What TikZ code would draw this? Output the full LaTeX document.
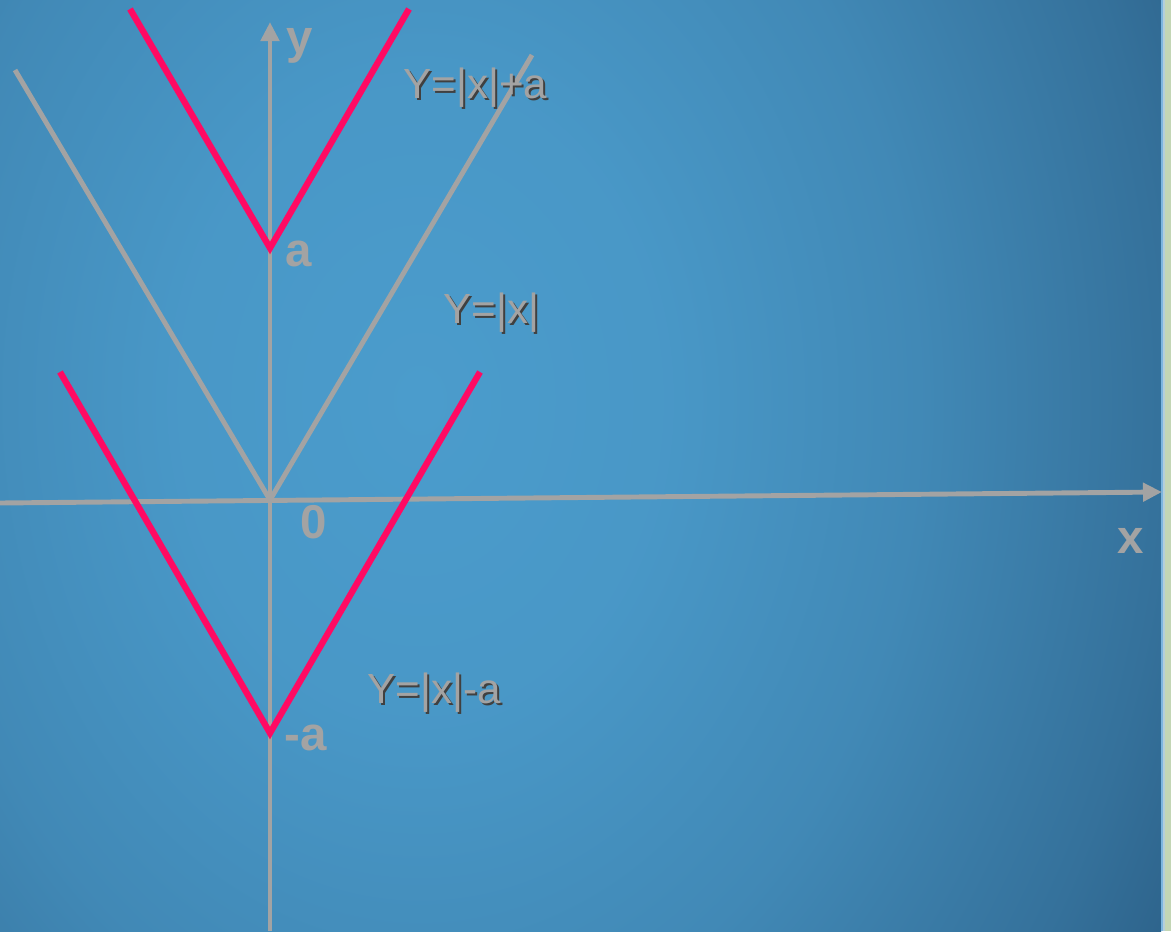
\documentclass[tikz,border=0pt]{standalone}
\usepackage{fontspec}
\setmainfont{Liberation Sans}
\usetikzlibrary{arrows.meta}
\definecolor{axisgray}{HTML}{A3A3A3}
\definecolor{curvered}{HTML}{FF0A63}
\definecolor{bglight}{HTML}{4B9CCC}
\definecolor{bgdark}{HTML}{234F74}
\definecolor{stripgreen}{HTML}{C3D6B5}
\definecolor{strippale}{HTML}{B5CFDA}
\definecolor{stripblue}{HTML}{7DB6E0}
\colorlet{bgqa}{bgdark!6!bglight}
\colorlet{bgqb}{bgdark!25!bglight}
\colorlet{bgqc}{bgdark!56!bglight}
\colorlet{bgqd}{bgdark!77!bglight}
\pgfdeclareradialshading{bgglow}{\pgfpoint{0bp}{0bp}}{color(0bp)=(bglight); color(6.25bp)=(bgqa); color(12.5bp)=(bgqb); color(18.75bp)=(bgqc); color(21.875bp)=(bgqd); color(25bp)=(bgdark); color(50bp)=(bgdark)}
\newcommand{\shadowtxt}[1]{\makebox[0pt][l]{\hspace{1.2pt}\raisebox{-1.2pt}{\color{black!75}#1}}#1}
\tikzset{
  >={Triangle[length=3.8mm,width=3.6mm]},
  axis/.style={draw=axisgray,line width=2.8pt},
  absline/.style={draw=axisgray,line width=2.8pt},
  shifted/.style={draw=curvered,line width=3.6pt,line join=miter},
  axislabel/.style={text=axisgray,inner sep=0pt,anchor=base west,font=\fontsize{27}{27}\selectfont\bfseries},
  formula/.style={text=axisgray,inner sep=0pt,anchor=base west,font=\fontsize{24}{24}\selectfont}
}
\begin{document}
\begin{tikzpicture}[x=0.02cm,y=-0.02cm]
  \useasboundingbox (0,0) rectangle (1171,931);
  % background
  \begin{scope}
    \clip (0,0) rectangle (1161,931);
    \shade[shading=bgglow] (420,400) ellipse [x radius=1000,y radius=1300];
  \end{scope}
  \fill[stripgreen] (1165,0) rectangle (1171,931);
  \fill[strippale] (1163,0) rectangle (1165,931);
  \fill[stripblue] (1161,0) rectangle (1163,931);

  % points
  \coordinate (origin) at (270,500);
  \coordinate (vtop) at (270,248);
  \coordinate (vbot) at (270,733);
  \coordinate (absl) at (15,70);
  \coordinate (absr) at (532,55);
  \coordinate (topl) at (130,9);
  \coordinate (topr) at (409,9);
  \coordinate (botl) at (60,372);
  \coordinate (botr) at (480,372);
  \coordinate (xstart) at (0,503);
  \coordinate (xend) at (1162,492);
  \coordinate (ystart) at (270,931);
  \coordinate (yend) at (270,22);

  % y=|x| and axes
  \draw[absline] (absl) -- (origin) -- (absr);
  \draw[axis,->] (xstart) -- (xend);
  \draw[axis,->] (ystart) -- (yend);

  % shifted graphs
  \draw[shifted] (topl) -- (vtop) -- (topr);
  \draw[shifted] (botl) -- (vbot) -- (botr);

  % labels
  \node[axislabel] (ylab) at (286,53) {y};
  \node[axislabel] (xlab) at (1117,553) {x};
  \node[axislabel] (zero) at (300,538) {0};
  \node[axislabel] (alab) at (285,266) {a};
  \node[axislabel] (malab) at (284,750) {-a};
  \node[formula] (fplus) at (403,98) {\shadowtxt{Y=|x|+a}};
  \node[formula] (fabs) at (443,323) {\shadowtxt{Y=|x|}};
  \node[formula] (fminus) at (367,703) {\shadowtxt{Y=|x|-a}};
\end{tikzpicture}
\end{document}
